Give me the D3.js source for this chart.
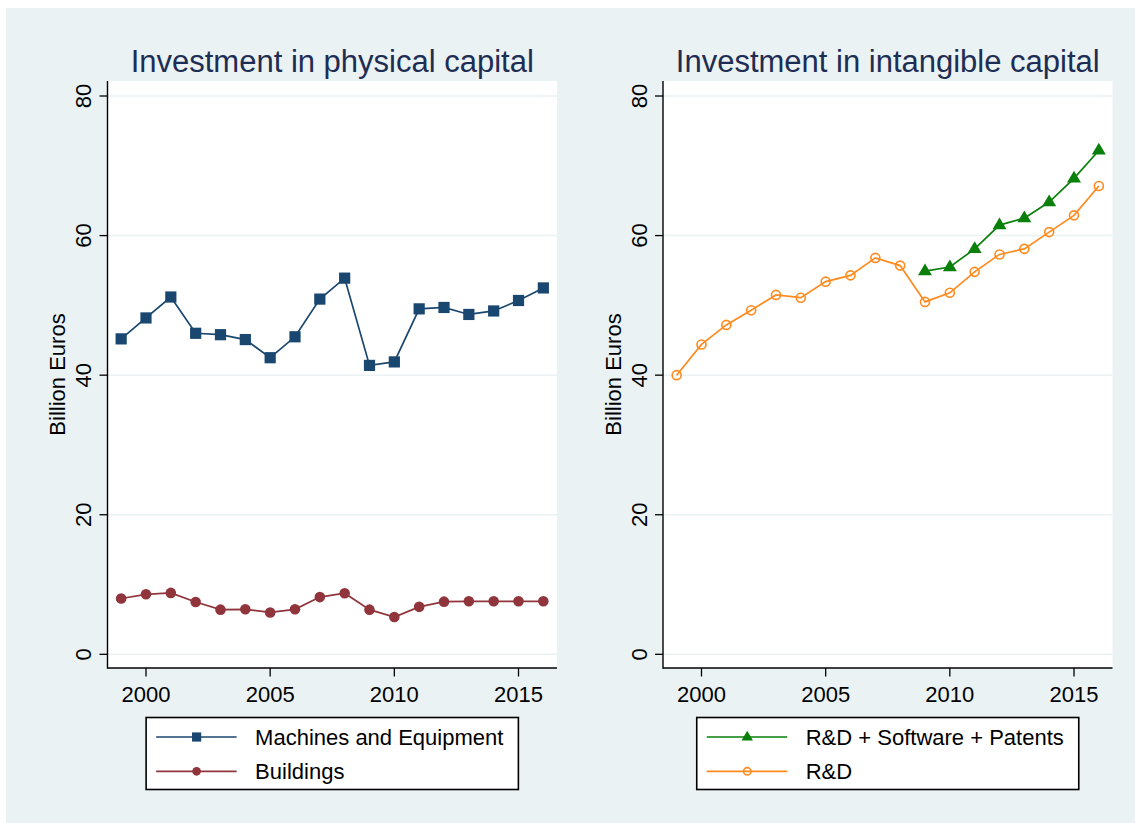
<!DOCTYPE html>
<html>
<head>
<meta charset="utf-8">
<script src="https://cdn.jsdelivr.net/npm/d3@7"></script>
<style>
  body { margin: 0; background: #fff; }
  text { font-family: "Liberation Sans", Arial, sans-serif; }
</style>
</head>
<body>
<script>

  //Data
  var years = [1999, 2000, 2001, 2002, 2003, 2004, 2005, 2006, 2007, 2008,
               2009, 2010, 2011, 2012, 2013, 2014, 2015, 2016];
  var machines = [45.2, 48.2, 51.2, 46.0, 45.8, 45.1, 42.5, 45.5, 50.9, 53.9,
                  41.4, 41.9, 49.5, 49.7, 48.7, 49.2, 50.7, 52.5];
  var buildings = [8.0, 8.6, 8.8, 7.5, 6.4, 6.45, 6.0, 6.45, 8.2, 8.75,
                   6.4, 5.35, 6.8, 7.55, 7.6, 7.6, 7.6, 7.6];
  var rdYears = [2009, 2010, 2011, 2012, 2013, 2014, 2015, 2016];
  var rdSoftPat = [54.9, 55.5, 58.1, 61.5, 62.5, 64.8, 68.2, 72.2];
  var rd = [40.0, 44.4, 47.2, 49.3, 51.5, 51.1, 53.4, 54.3, 56.8, 55.7,
            50.5, 51.8, 54.8, 57.3, 58.1, 60.5, 62.9, 67.1];

  var yTicks = [0, 20, 40, 60, 80];
  var xTicks = [2000, 2005, 2010, 2015];
  var titles = ["Investment in physical capital", "Investment in intangible capital"];
  var yTitle = "Billion Euros";

  var width = 1135, height = 823;
  var bg = "#eaf2f3";

  var svg = d3.select("body")
    .append("svg")
    .attr("width", width)
    .attr("height", height);

  // outer graph region
  svg.append("rect")
    .attr("x", 6).attr("y", 8)
    .attr("width", width - 6).attr("height", height - 8)
    .attr("fill", bg);

  var panels = [
    {
      left: 107.5, title: titles[0],
      series: [
        { name: "Machines and Equipment", x: years, y: machines, color: "#1a476f", marker: "square" },
        { name: "Buildings", x: years, y: buildings, color: "#90353b", marker: "circle" }
      ]
    },
    {
      left: 663, title: titles[1],
      series: [
        { name: "R&D + Software + Patents", x: rdYears, y: rdSoftPat, color: "#0a800a", marker: "triangle" },
        { name: "R&D", x: years, y: rd, color: "#ff8a1e", marker: "hollow" }
      ]
    }
  ];

  var plotW = 449.5, plotTop = 81, plotBottom = 668;

  var y = d3.scaleLinear()
    .domain([-1.96, 82.15])
    .range([plotBottom, plotTop]);

  function drawMarker(g, type, color, cx, cy, big) {
    var s = big ? 1 : 0.82;
    if (type == "square") {
      var h = 5.6 * s;
      g.append("rect")
        .attr("x", cx - h).attr("y", cy - h)
        .attr("width", 2 * h).attr("height", 2 * h)
        .attr("fill", color);
    } else if (type == "circle") {
      g.append("circle")
        .attr("cx", cx).attr("cy", cy).attr("r", 5.3 * s)
        .attr("fill", color);
    } else if (type == "triangle") {
      var r = 7.6 * s;
      g.append("path")
        .attr("d", "M" + cx + "," + (cy - r) +
          "L" + (cx + r * 0.92) + "," + (cy + r * 0.55) +
          "L" + (cx - r * 0.92) + "," + (cy + r * 0.55) + "Z")
        .attr("fill", color);
    } else {
      g.append("circle")
        .attr("cx", cx).attr("cy", cy).attr("r", 4.5 * s)
        .attr("fill", "none")
        .attr("stroke", color)
        .attr("stroke-width", 1.6);
    }
  }

  panels.forEach(function(p) {

    var x = d3.scaleLinear()
      .domain([1998.45, 2016.55])
      .range([p.left, p.left + plotW]);

    var g = svg.append("g");

    //Plot region
    g.append("rect")
      .attr("x", p.left).attr("y", plotTop)
      .attr("width", plotW).attr("height", plotBottom - plotTop)
      .attr("fill", "white");

    //Gridlines
    g.selectAll(".grid")
      .data(yTicks)
      .enter().append("line")
      .attr("x1", p.left).attr("x2", p.left + plotW)
      .attr("y1", function(d) { return y(d); })
      .attr("y2", function(d) { return y(d); })
      .attr("stroke", bg)
      .attr("stroke-width", 1.5);

    //Title
    g.append("text")
      .attr("x", p.left + plotW / 2)
      .attr("y", 72)
      .attr("text-anchor", "middle")
      .attr("font-size", 31)
      .attr("fill", "#1e2d53")
      .text(p.title);

    //Y axis
    g.append("line")
      .attr("x1", p.left).attr("x2", p.left)
      .attr("y1", plotTop).attr("y2", plotBottom + 0.7)
      .attr("stroke", "black").attr("stroke-width", 1.4);

    g.selectAll(".ytick")
      .data(yTicks)
      .enter().append("line")
      .attr("x1", p.left - 8).attr("x2", p.left)
      .attr("y1", function(d) { return y(d); })
      .attr("y2", function(d) { return y(d); })
      .attr("stroke", "black").attr("stroke-width", 1.3);

    g.selectAll(".ylab")
      .data(yTicks)
      .enter().append("text")
      .attr("transform", function(d) { return "translate(" + (p.left - 16.5) + "," + y(d) + ") rotate(-90)"; })
      .attr("text-anchor", "middle")
      .attr("font-size", 22)
      .text(function(d) { return d; });

    g.append("text")
      .attr("transform", "translate(" + (p.left - 42.5) + "," + ((plotTop + plotBottom) / 2) + ") rotate(-90)")
      .attr("text-anchor", "middle")
      .attr("font-size", 22)
      .text(yTitle);

    //X axis
    g.append("line")
      .attr("x1", p.left).attr("x2", p.left + plotW)
      .attr("y1", plotBottom).attr("y2", plotBottom)
      .attr("stroke", "black").attr("stroke-width", 1.4);

    g.selectAll(".xtick")
      .data(xTicks)
      .enter().append("line")
      .attr("x1", function(d) { return x(d); })
      .attr("x2", function(d) { return x(d); })
      .attr("y1", plotBottom).attr("y2", plotBottom + 8.5)
      .attr("stroke", "black").attr("stroke-width", 1.3);

    g.selectAll(".xlab")
      .data(xTicks)
      .enter().append("text")
      .attr("x", function(d) { return x(d); })
      .attr("y", 701.5)
      .attr("text-anchor", "middle")
      .attr("font-size", 22)
      .text(function(d) { return d; });

    //Lines and markers
    var line = d3.line()
      .x(function(d) { return x(d[0]); })
      .y(function(d) { return y(d[1]); });

    p.series.forEach(function(s) {
      var pts = s.x.map(function(yr, i) { return [yr, s.y[i]]; });
      g.append("path")
        .attr("d", line(pts))
        .attr("fill", "none")
        .attr("stroke", s.color)
        .attr("stroke-width", 1.7);
      var mg = g.append("g");
      pts.forEach(function(d) {
        drawMarker(mg, s.marker, s.color, x(d[0]), y(d[1]), true);
      });
    });

    //Legend
    var lg = g.append("g");
    var box = lg.append("rect")
      .attr("y", 717.5).attr("height", 72)
      .attr("fill", "white")
      .attr("stroke", "black")
      .attr("stroke-width", 1.6);

    var maxW = 0;
    var texts = [];
    p.series.forEach(function(s, i) {
      var ry = 737 + i * 34.3;
      texts.push({ s: s, ry: ry });
    });

    // measure first, then place
    var tmp = texts.map(function(t) {
      var el = lg.append("text")
        .attr("font-size", 22)
        .attr("fill", "black")
        .text(t.s.name);
      maxW = Math.max(maxW, el.node().getComputedTextLength());
      return el;
    });

    var boxW = 109 + maxW + 15;
    var bx = p.left + plotW / 2 - boxW / 2;
    box.attr("x", bx).attr("width", boxW);

    texts.forEach(function(t, i) {
      tmp[i].attr("x", bx + 109).attr("y", t.ry + 8);
      lg.append("line")
        .attr("x1", bx + 10).attr("x2", bx + 90.5)
        .attr("y1", t.ry).attr("y2", t.ry)
        .attr("stroke", t.s.color)
        .attr("stroke-width", 1.7);
      drawMarker(lg, t.s.marker, t.s.color, bx + 50.5, t.ry, false);
    });

  });

</script>
</body>
</html>
